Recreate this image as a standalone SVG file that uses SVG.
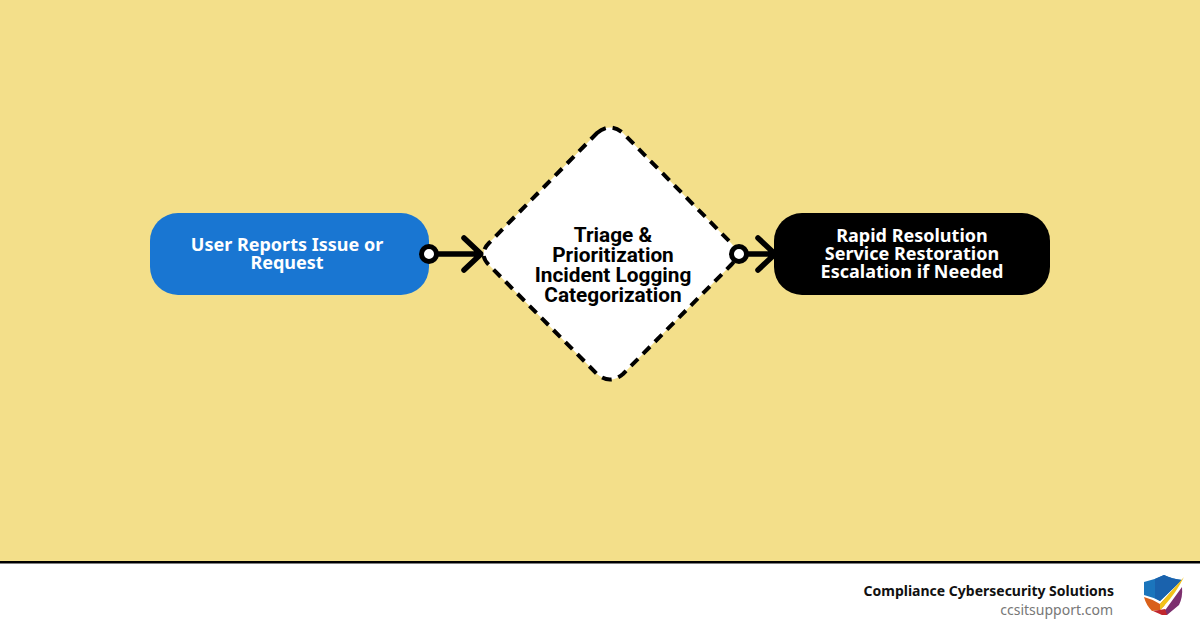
<svg xmlns="http://www.w3.org/2000/svg" width="1200" height="630" viewBox="0 0 1200 630">
<style>
.n{font-family:"Noto Sans","Open Sans",sans-serif;font-weight:700;font-size:18px;fill:#fff;text-anchor:middle}
.d{font-family:Roboto,sans-serif;font-weight:700;font-size:20.800px;fill:#000;text-anchor:middle}
.l{fill:none;stroke:#000;stroke-width:5.500;stroke-linecap:round;stroke-linejoin:round}
.c{fill:#fff;stroke:#000;stroke-width:5}
</style>
<rect width="1200" height="630" fill="#f3df8a"/>
<g id="footer">
<rect y="562" width="1200" height="68" fill="#fff"/>
<rect y="561" width="1200" height="2.500" fill="#000"/>
<text x="1114" y="596" text-anchor="end" font-family="'Noto Sans',sans-serif" font-weight="700" font-size="14" fill="#111">Compliance Cybersecurity Solutions</text>
<text x="1113" y="615" text-anchor="end" font-family="'Noto Sans',sans-serif" font-size="14" fill="#777">ccsitsupport.com</text>
</g>
<g id="logo">
<path d="M1144 582Q1154 580 1164 575Q1172 579 1182 580L1160 601Q1152 597 1144 595Z" fill="#1b75bc"/>
<path d="M1155 579L1164 575Q1172 579 1182 580L1160 601L1155 598Z" fill="#1a62ad"/>
<path d="M1144 597Q1152 599 1160 604L1172 591L1164 606L1160 610L1152 611Q1146 605 1144 597Z" fill="#d9601a"/>
<path d="M1160 604L1184 577Q1176 593 1164 606L1160 610Z" fill="#f2c21a"/>
<path d="M1166 609L1182 587Q1183 597 1179 605L1167 615L1160 614Z" fill="#7d2f6e"/>
<path d="M1153 611L1165 609L1167 615L1162 615Z" fill="#c1272d"/>
</g>
<g id="connectors">
<path class="l" d="M429 254H480M464 238L481 254L464 270"/>
<path class="l" d="M739 254H774M758 238L775 254L758 270"/>
</g>
<g id="node-user-report">
<rect x="150" y="213" width="279" height="82" rx="28" fill="#1976d2"/>
<text class="n" x="287" y="251">User Reports Issue or</text>
<text class="n" x="287" y="269">Request</text>
</g>
<g id="node-triage">
<path d="M597 133Q610 122 623 133L731 243Q742 254 731 265L623 374Q610 385 597 374L489 265Q478 254 489 243Z" fill="#fff" stroke="#000" stroke-width="4" stroke-dasharray="10 7"/>
<text class="d" x="613" y="242">Triage &amp;</text>
<text class="d" x="613" y="262">Prioritization</text>
<text class="d" x="613" y="282">Incident Logging</text>
<text class="d" x="613" y="302">Categorization</text>
</g>
<g id="node-resolution">
<rect x="774" y="213" width="276" height="82" rx="28" fill="#000"/>
<text class="n" x="912" y="242">Rapid Resolution</text>
<text class="n" x="912" y="260">Service Restoration</text>
<text class="n" x="912" y="278">Escalation if Needed</text>
</g>
<g id="connector-ports">
<circle class="c" cx="429" cy="254" r="7.500"/>
<circle class="c" cx="739" cy="254" r="7.500"/>
</g>
</svg>
